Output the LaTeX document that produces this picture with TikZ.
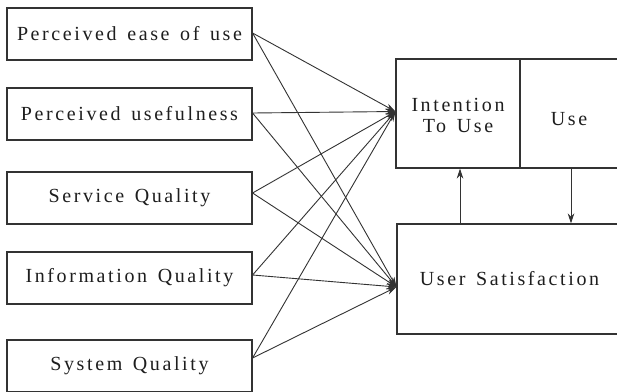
\documentclass[tikz,border=0pt]{standalone}
\usepackage{fontspec}
\setmainfont{Liberation Serif}[LetterSpace=13,WordSpace=1.4]
\usetikzlibrary{arrows.meta}
\definecolor{linec}{HTML}{333333}
\definecolor{txtc}{HTML}{1E1E1E}
\begin{document}
\begin{tikzpicture}[x=1pt,y=-1pt,
  box/.style={draw=linec, line width=1.1pt, minimum width=245pt, minimum height=52pt, inner sep=0pt, font=\fontsize{20}{21}\selectfont, text=txtc},
  rbox/.style={draw=linec, line width=1.1pt, inner sep=0pt},
  lbl/.style={inner sep=0pt, font=\fontsize{20}{21}\selectfont, text=txtc, align=center},
  arr/.style={draw=linec, line width=0.9pt, -{Stealth[length=10pt,width=6.5pt]}}]
\useasboundingbox (0,0) rectangle (617,391);
\fill[white] (0,0) rectangle (617,391);
\clip (0,0) rectangle (617,391);
% left boxes
\node[box] (pe) at (129.5,34) {Perceived ease of use};
\node[box] (pu) at (129.5,114) {Perceived usefulness};
\node[box] (sq) at (129.5,198) {Service Quality};
\node[box] (iq) at (129.5,278) {Information Quality};
\node[box] (sy) at (129.5,366) {System Quality};
% right boxes
\node[rbox, minimum width=124pt, minimum height=109pt] (itu) at (458,113.5) {};
\node[rbox, minimum width=98pt, minimum height=109pt] (use) at (569,113.5) {};
\node[rbox, minimum width=221pt, minimum height=110pt] (us) at (507.5,279) {};
\node[lbl] (itut) at ([yshift=-2pt]itu.center) {Intention\\To Use};
\node[lbl] (uset) at ([yshift=-5.5pt]use.center) {Use};
\node[lbl] (ust) at ([xshift=2pt]us.center) {User Satisfaction};
% coordinates of arrow targets
\coordinate (tI) at ([yshift=2pt]itu.west);
\coordinate (tU) at ([yshift=-8pt]us.west);
% arrows to Intention To Use
\draw[arr] ([yshift=1pt]pe.east) -- (tI);
\draw[arr] ([yshift=1pt]pu.east) -- (tI);
\draw[arr] ([yshift=5pt]sq.east) -- (tI);
\draw[arr] ([yshift=3pt]iq.east) -- (tI);
\draw[arr] ([yshift=8pt]sy.east) -- (tI);
% arrows to User Satisfaction
\draw[arr] ([yshift=1pt]pe.east) -- (tU);
\draw[arr] ([yshift=1pt]pu.east) -- (tU);
\draw[arr] ([yshift=5pt]sq.east) -- (tU);
\draw[arr] ([yshift=3pt]iq.east) -- (tU);
\draw[arr] ([yshift=8pt]sy.east) -- (tU);
% vertical arrows
\draw[arr] ([xshift=2pt]us.north -| itu.south) -- ([xshift=2pt]itu.south);
\draw[arr] ([xshift=2pt]use.south) -- ([xshift=2pt]use.south |- us.north);
\end{tikzpicture}
\end{document}
